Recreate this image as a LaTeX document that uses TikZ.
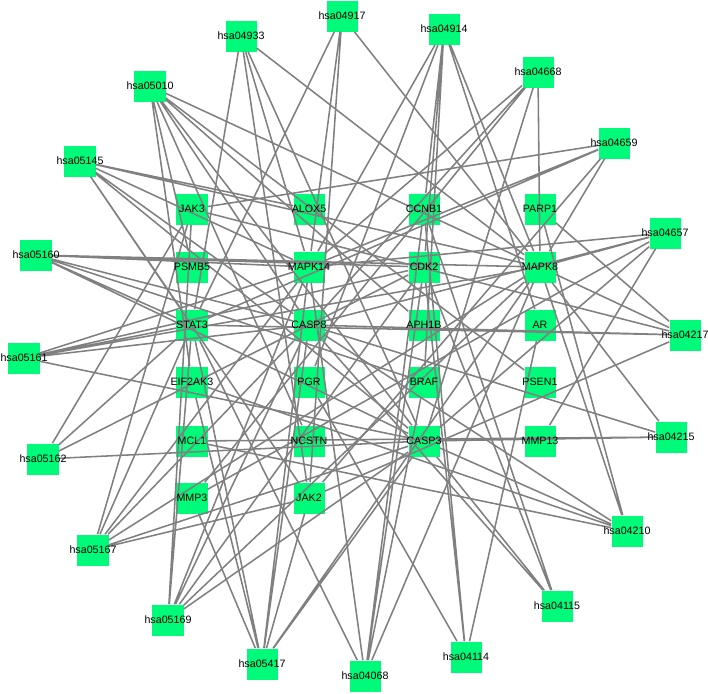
\documentclass[tikz,border=0pt]{standalone}
\usepackage{fontspec}
\setmainfont{Liberation Sans}
\definecolor{boxgreen}{RGB}{0,250,122}
\begin{document}
\begin{tikzpicture}[x=0.025cm, y=-0.025cm, line join=round,
  term/.style={fill=boxgreen, minimum size=0.775cm, inner sep=0pt},
  tag/.style={inner sep=0pt, font=\fontsize{7.6}{8}\selectfont},
  link/.style={draw=gray, line width=1.1pt}]
\useasboundingbox (0,0) rectangle (708,693);
% genes in the middle block
\node[term] (JAK3) at (192,209) {};
\node[term] (ALOX5) at (309,209) {};
\node[term] (CCNB1) at (424,209) {};
\node[term] (PARP1) at (540,209) {};
\node[term] (PSMB5) at (192,267) {};
\node[term] (MAPK14) at (309,267) {};
\node[term] (CDK2) at (424,267) {};
\node[term] (MAPK8) at (540,267) {};
\node[term] (STAT3) at (192,325) {};
\node[term] (CASP8) at (309,325) {};
\node[term] (APH1B) at (424,325) {};
\node[term] (AR) at (540,325) {};
\node[term] (EIF2AK3) at (192,382) {};
\node[term] (PGR) at (309,382) {};
\node[term] (BRAF) at (424,382) {};
\node[term] (PSEN1) at (540,382) {};
\node[term] (MCL1) at (192,441) {};
\node[term] (NCSTN) at (309,441) {};
\node[term] (CASP3) at (424,441) {};
\node[term] (MMP13) at (540,441) {};
\node[term] (MMP3) at (192,498) {};
\node[term] (JAK2) at (309,498) {};
% pathways on the outer ring
\node[term] (hsa04917) at (342,16) {};
\node[term] (hsa04914) at (444,29) {};
\node[term] (hsa04668) at (538,72) {};
\node[term] (hsa04659) at (614,143) {};
\node[term] (hsa04657) at (665,233) {};
\node[term] (hsa04217) at (685,335) {};
\node[term] (hsa04215) at (671,437) {};
\node[term] (hsa04210) at (627,531) {};
\node[term] (hsa04115) at (557,606) {};
\node[term] (hsa04114) at (466,657) {};
\node[term] (hsa04068) at (365,676) {};
\node[term] (hsa05417) at (262,664) {};
\node[term] (hsa05169) at (168,620) {};
\node[term] (hsa05167) at (93,550) {};
\node[term] (hsa05162) at (43,459) {};
\node[term] (hsa05161) at (24,358) {};
\node[term] (hsa05160) at (36,255) {};
\node[term] (hsa05145) at (80,161) {};
\node[term] (hsa05010) at (150,86) {};
\node[term] (hsa04933) at (241,36) {};
% links, one draw per pathway
\draw[link] (hsa04917) -- (STAT3) (hsa04917) -- (MAPK14) (hsa04917) -- (JAK2) (hsa04917) -- (MAPK8);
\draw[link] (hsa04914) -- (CCNB1) (hsa04914) -- (CDK2) (hsa04914) -- (BRAF) (hsa04914) -- (PGR)
  (hsa04914) -- (MAPK14) (hsa04914) -- (MAPK8) (hsa04914) -- (AR);
\draw[link] (hsa04668) -- (MAPK14) (hsa04668) -- (MAPK8) (hsa04668) -- (CASP8) (hsa04668) -- (CASP3) (hsa04668) -- (MMP3);
\draw[link] (hsa04659) -- (JAK3) (hsa04659) -- (JAK2) (hsa04659) -- (STAT3) (hsa04659) -- (MAPK14) (hsa04659) -- (MAPK8);
\draw[link] (hsa04657) -- (MAPK14) (hsa04657) -- (MAPK8) (hsa04657) -- (CASP8) (hsa04657) -- (CASP3)
  (hsa04657) -- (MMP3) (hsa04657) -- (MMP13);
\draw[link] (hsa04217) -- (PARP1) (hsa04217) -- (MAPK8) (hsa04217) -- (CASP8) (hsa04217) -- (STAT3)
  (hsa04217) -- (JAK2) (hsa04217) -- (JAK3);
\draw[link] (hsa04215) -- (CASP8) (hsa04215) -- (CASP3) (hsa04215) -- (MCL1) (hsa04215) -- (MAPK8);
\draw[link] (hsa04210) -- (PARP1) (hsa04210) -- (CASP3) (hsa04210) -- (CASP8) (hsa04210) -- (MCL1)
  (hsa04210) -- (MAPK8) (hsa04210) -- (EIF2AK3);
\draw[link] (hsa04115) -- (CCNB1) (hsa04115) -- (CDK2) (hsa04115) -- (CASP3) (hsa04115) -- (CASP8);
\draw[link] (hsa04114) -- (CCNB1) (hsa04114) -- (CDK2) (hsa04114) -- (PGR) (hsa04114) -- (AR);
\draw[link] (hsa04068) -- (STAT3) (hsa04068) -- (MAPK14) (hsa04068) -- (CCNB1) (hsa04068) -- (CDK2)
  (hsa04068) -- (BRAF) (hsa04068) -- (MAPK8);
\draw[link] (hsa05417) -- (STAT3) (hsa05417) -- (JAK2) (hsa05417) -- (MAPK14) (hsa05417) -- (MAPK8)
  (hsa05417) -- (CASP8) (hsa05417) -- (CASP3) (hsa05417) -- (MMP3) (hsa05417) -- (EIF2AK3);
\draw[link] (hsa05169) -- (STAT3) (hsa05169) -- (JAK3) (hsa05169) -- (MAPK14) (hsa05169) -- (CASP8)
  (hsa05169) -- (CDK2) (hsa05169) -- (MAPK8) (hsa05169) -- (CASP3);
\draw[link] (hsa05167) -- (STAT3) (hsa05167) -- (JAK2) (hsa05167) -- (JAK3) (hsa05167) -- (MAPK14)
  (hsa05167) -- (MAPK8) (hsa05167) -- (CASP8) (hsa05167) -- (CASP3);
\draw[link] (hsa05162) -- (JAK3) (hsa05162) -- (STAT3) (hsa05162) -- (CDK2) (hsa05162) -- (CASP8) (hsa05162) -- (CASP3);
\draw[link] (hsa05161) -- (STAT3) (hsa05161) -- (MAPK14) (hsa05161) -- (MAPK8) (hsa05161) -- (CASP8)
  (hsa05161) -- (CASP3) (hsa05161) -- (CDK2);
\draw[link] (hsa05160) -- (STAT3) (hsa05160) -- (MAPK14) (hsa05160) -- (MAPK8) (hsa05160) -- (CASP8)
  (hsa05160) -- (CASP3) (hsa05160) -- (CDK2) (hsa05160) -- (BRAF);
\draw[link] (hsa05145) -- (ALOX5) (hsa05145) -- (JAK2) (hsa05145) -- (STAT3) (hsa05145) -- (MAPK14)
  (hsa05145) -- (MAPK8) (hsa05145) -- (CASP8) (hsa05145) -- (CASP3);
\draw[link] (hsa05010) -- (PSMB5) (hsa05010) -- (EIF2AK3) (hsa05010) -- (NCSTN) (hsa05010) -- (CASP8)
  (hsa05010) -- (CASP3) (hsa05010) -- (MAPK8) (hsa05010) -- (PSEN1) (hsa05010) -- (APH1B);
\draw[link] (hsa04933) -- (STAT3) (hsa04933) -- (JAK2) (hsa04933) -- (MAPK14) (hsa04933) -- (CASP3) (hsa04933) -- (MAPK8);
% labels on top of the links
\foreach \t in {JAK3,ALOX5,CCNB1,PARP1,PSMB5,MAPK14,CDK2,MAPK8,STAT3,CASP8,APH1B,AR,
  EIF2AK3,PGR,BRAF,PSEN1,MCL1,NCSTN,CASP3,MMP13,MMP3,JAK2,
  hsa04917,hsa04914,hsa04668,hsa04659,hsa04657,hsa04217,hsa04215,hsa04210,hsa04115,hsa04114,
  hsa04068,hsa05417,hsa05169,hsa05167,hsa05162,hsa05161,hsa05160,hsa05145,hsa05010,hsa04933}
  \node[tag] (\t-text) at (\t) {\t};
\end{tikzpicture}
\end{document}
